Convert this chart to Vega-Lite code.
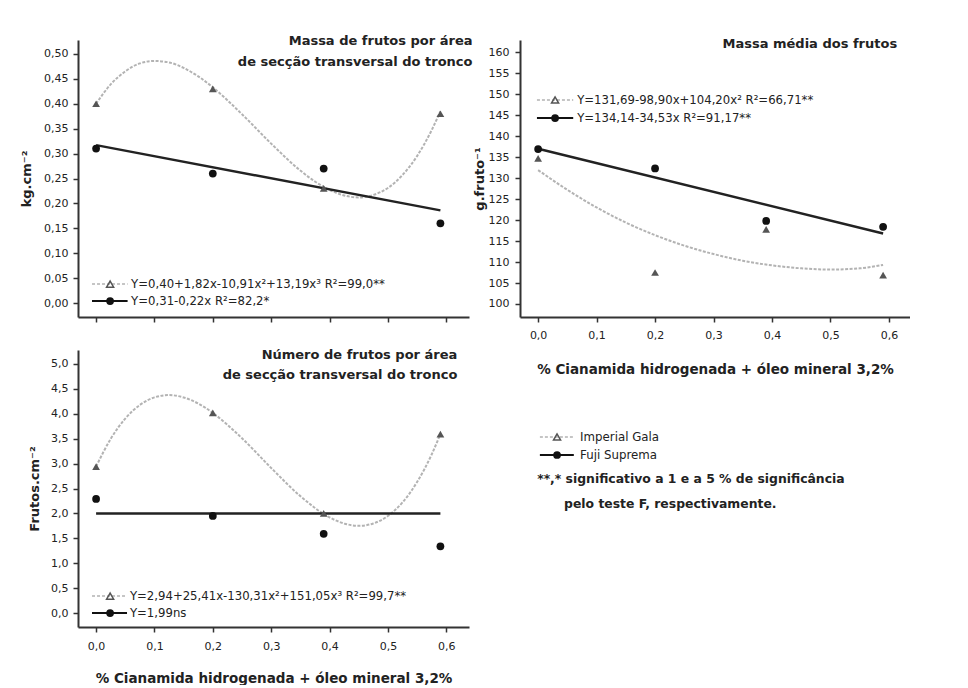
{
  "$schema": "https://vega.github.io/schema/vega-lite/v6.json",
  "background": "white",
  "padding": {"left": 20, "top": 35, "right": 0, "bottom": 0},
  "autosize": {"type": "pad"},
  "config": {
    "view": {"stroke": null},
    "font": "DejaVu Sans",
    "axis": {
      "grid": false,
      "domainColor": "#333",
      "domainWidth": 2,
      "tickColor": "#333",
      "tickWidth": 1.5,
      "tickSize": 5,
      "labelFont": "DejaVu Sans",
      "labelFontSize": 11,
      "labelColor": "#222",
      "labelFlush": false,
      "labelOverlap": false,
      "titleFont": "DejaVu Sans",
      "titleFontSize": 13,
      "titleFontWeight": "bold",
      "titleColor": "#222"
    }
  },
  "datasets": {
    "tl_pts": [
      {"x": 0, "y": 0.40, "cultivar": "Imperial Gala"},
      {"x": 0.2, "y": 0.43, "cultivar": "Imperial Gala"},
      {"x": 0.39, "y": 0.23, "cultivar": "Imperial Gala"},
      {"x": 0.59, "y": 0.38, "cultivar": "Imperial Gala"},
      {"x": 0, "y": 0.31, "cultivar": "Fuji Suprema"},
      {"x": 0.2, "y": 0.26, "cultivar": "Fuji Suprema"},
      {"x": 0.39, "y": 0.27, "cultivar": "Fuji Suprema"},
      {"x": 0.59, "y": 0.16, "cultivar": "Fuji Suprema"}
    ],
    "tl_gala_fit": [
      {"x": 0, "y": 0.400}, {"x": 0.025, "y": 0.439}, {"x": 0.05, "y": 0.465}, {"x": 0.075, "y": 0.481},
      {"x": 0.1, "y": 0.486}, {"x": 0.125, "y": 0.483}, {"x": 0.15, "y": 0.472}, {"x": 0.175, "y": 0.455},
      {"x": 0.2, "y": 0.433}, {"x": 0.25, "y": 0.379}, {"x": 0.3, "y": 0.320}, {"x": 0.35, "y": 0.266},
      {"x": 0.375, "y": 0.244}, {"x": 0.4, "y": 0.227}, {"x": 0.425, "y": 0.216}, {"x": 0.45, "y": 0.212},
      {"x": 0.475, "y": 0.217}, {"x": 0.5, "y": 0.231}, {"x": 0.525, "y": 0.257}, {"x": 0.55, "y": 0.295},
      {"x": 0.575, "y": 0.347}, {"x": 0.59, "y": 0.385}
    ],
    "tl_fuji_fit": [{"x": 0, "y": 0.317}, {"x": 0.59, "y": 0.186}],
    "tr_pts": [
      {"x": 0, "y": 134.7, "cultivar": "Imperial Gala"},
      {"x": 0.2, "y": 107.5, "cultivar": "Imperial Gala"},
      {"x": 0.39, "y": 117.8, "cultivar": "Imperial Gala"},
      {"x": 0.59, "y": 106.9, "cultivar": "Imperial Gala"},
      {"x": 0, "y": 136.9, "cultivar": "Fuji Suprema"},
      {"x": 0.2, "y": 132.3, "cultivar": "Fuji Suprema"},
      {"x": 0.39, "y": 119.8, "cultivar": "Fuji Suprema"},
      {"x": 0.59, "y": 118.4, "cultivar": "Fuji Suprema"}
    ],
    "tr_gala_fit": [
      {"x": 0, "y": 131.9}, {"x": 0.05, "y": 127.2}, {"x": 0.1, "y": 123.0}, {"x": 0.15, "y": 119.4},
      {"x": 0.2, "y": 116.4}, {"x": 0.25, "y": 113.9}, {"x": 0.3, "y": 111.9}, {"x": 0.35, "y": 110.3},
      {"x": 0.4, "y": 109.2}, {"x": 0.45, "y": 108.5}, {"x": 0.5, "y": 108.2}, {"x": 0.55, "y": 108.5},
      {"x": 0.59, "y": 109.3}
    ],
    "tr_fuji_fit": [{"x": 0, "y": 137.0}, {"x": 0.59, "y": 116.8}],
    "bl_pts": [
      {"x": 0, "y": 2.94, "cultivar": "Imperial Gala"},
      {"x": 0.2, "y": 4.02, "cultivar": "Imperial Gala"},
      {"x": 0.39, "y": 2.0, "cultivar": "Imperial Gala"},
      {"x": 0.59, "y": 3.59, "cultivar": "Imperial Gala"},
      {"x": 0, "y": 2.29, "cultivar": "Fuji Suprema"},
      {"x": 0.2, "y": 1.95, "cultivar": "Fuji Suprema"},
      {"x": 0.39, "y": 1.59, "cultivar": "Fuji Suprema"},
      {"x": 0.59, "y": 1.34, "cultivar": "Fuji Suprema"}
    ],
    "bl_gala_fit": [
      {"x": 0, "y": 2.94}, {"x": 0.025, "y": 3.496}, {"x": 0.05, "y": 3.903}, {"x": 0.075, "y": 4.177},
      {"x": 0.1, "y": 4.329}, {"x": 0.125, "y": 4.375}, {"x": 0.15, "y": 4.328}, {"x": 0.175, "y": 4.206},
      {"x": 0.2, "y": 4.018}, {"x": 0.25, "y": 3.509}, {"x": 0.3, "y": 2.913}, {"x": 0.35, "y": 2.347},
      {"x": 0.4, "y": 1.921}, {"x": 0.425, "y": 1.798}, {"x": 0.45, "y": 1.751}, {"x": 0.475, "y": 1.798},
      {"x": 0.5, "y": 1.948}, {"x": 0.525, "y": 2.22}, {"x": 0.55, "y": 2.629}, {"x": 0.575, "y": 3.183},
      {"x": 0.59, "y": 3.594}
    ],
    "bl_fuji_fit": [{"x": 0, "y": 2.0}, {"x": 0.59, "y": 2.0}],
    "one": [{}]
  },
  "spacing": 0,
  "hconcat": [
    {
      "spacing": 26,
      "vconcat": [
        {
          "width": 391,
          "height": 277,
          "layer": [
            {
              "data": {"name": "tl_gala_fit"},
              "mark": {"type": "line", "color": "#b3b3b3", "strokeWidth": 2, "strokeDash": [3, 1.5], "interpolate": "monotone"},
              "encoding": {
                "x": {"field": "x", "type": "quantitative", "scale": {"domain": [-0.031, 0.639], "nice": false, "zero": false},
                  "axis": {"values": [0, 0.1, 0.2, 0.3, 0.4, 0.5, 0.6], "tickCount": 20, "labels": false, "title": null}},
                "y": {"field": "y", "type": "quantitative", "scale": {"domain": [-0.028, 0.528], "nice": false, "zero": false},
                  "axis": {"values": [0, 0.05, 0.1, 0.15, 0.2, 0.25, 0.3, 0.35, 0.4, 0.45, 0.5], "tickCount": 20, "labelOverlap": false,
                    "labelExpr": "replace(format(datum.value, '.2f'), '.', ',')", "title": "kg.cm⁻²", "titlePadding": 10, "labelPadding": 5}}
              }
            },
            {
              "data": {"name": "tl_fuji_fit"},
              "mark": {"type": "line", "color": "#222", "strokeWidth": 2.5},
              "encoding": {"x": {"field": "x", "type": "quantitative"}, "y": {"field": "y", "type": "quantitative"}}
            },
            {
              "data": {"name": "tl_pts"},
              "mark": {"type": "point", "filled": true, "size": 60, "opacity": 1},
              "encoding": {
                "x": {"field": "x", "type": "quantitative"},
                "y": {"field": "y", "type": "quantitative"},
                "shape": {"field": "cultivar", "type": "nominal", "scale": {"domain": ["Imperial Gala", "Fuji Suprema"], "range": ["triangle-up", "circle"]}, "legend": null},
                "color": {"field": "cultivar", "type": "nominal", "scale": {"domain": ["Imperial Gala", "Fuji Suprema"], "range": ["#555555", "#111111"]}, "legend": null}
              }
            },
            {
              "data": {"name": "one"},
              "mark": {"type": "text", "align": "right", "baseline": "top", "fontSize": 13, "fontWeight": "bold", "lineHeight": 21, "color": "#222"},
              "encoding": {"x": {"datum": 0.645, "type": "quantitative"}, "y": {"datum": 0.538, "type": "quantitative"},
                "text": {"value": ["Massa de frutos por área", "de secção transversal do tronco"]}}
            },
            {
              "data": {"name": "one"},
              "mark": {"type": "rule", "color": "#b3b3b3", "strokeWidth": 1.5, "strokeDash": [3, 2]},
              "encoding": {"x": {"datum": -0.007, "type": "quantitative"}, "x2": {"datum": 0.054}, "y": {"datum": 0.038, "type": "quantitative"}}
            },
            {
              "data": {"name": "one"},
              "mark": {"type": "point", "shape": "triangle-up", "filled": false, "color": "#555", "strokeWidth": 1.5, "size": 50, "opacity": 1},
              "encoding": {"x": {"datum": 0.024, "type": "quantitative"}, "y": {"datum": 0.038, "type": "quantitative"}}
            },
            {
              "data": {"name": "one"},
              "mark": {"type": "text", "align": "left", "baseline": "middle", "fontSize": 11.7, "color": "#222"},
              "encoding": {"x": {"datum": 0.06, "type": "quantitative"}, "y": {"datum": 0.038, "type": "quantitative"}, "text": {"value": "Y=0,40+1,82x-10,91x²+13,19x³ R²=99,0**"}}
            },
            {
              "data": {"name": "one"},
              "mark": {"type": "rule", "color": "#111", "strokeWidth": 2},
              "encoding": {"x": {"datum": -0.007, "type": "quantitative"}, "x2": {"datum": 0.054}, "y": {"datum": 0.004, "type": "quantitative"}}
            },
            {
              "data": {"name": "one"},
              "mark": {"type": "point", "shape": "circle", "filled": true, "color": "#111", "size": 60, "opacity": 1},
              "encoding": {"x": {"datum": 0.024, "type": "quantitative"}, "y": {"datum": 0.004, "type": "quantitative"}}
            },
            {
              "data": {"name": "one"},
              "mark": {"type": "text", "align": "left", "baseline": "middle", "fontSize": 11.7, "color": "#222"},
              "encoding": {"x": {"datum": 0.06, "type": "quantitative"}, "y": {"datum": 0.004, "type": "quantitative"}, "text": {"value": "Y=0,31-0,22x R²=82,2*"}}
            }
          ]
        },
        {
          "width": 391,
          "height": 277,
          "layer": [
            {
              "data": {"name": "bl_gala_fit"},
              "mark": {"type": "line", "color": "#b3b3b3", "strokeWidth": 2, "strokeDash": [3, 1.5], "interpolate": "monotone"},
              "encoding": {
                "x": {"field": "x", "type": "quantitative", "scale": {"domain": [-0.031, 0.639], "nice": false, "zero": false},
                  "axis": {"values": [0, 0.1, 0.2, 0.3, 0.4, 0.5, 0.6], "tickCount": 20, "labelOverlap": false, "labelExpr": "replace(format(datum.value, '.1f'), '.', ',')",
                    "labelPadding": 8, "title": "% Cianamida hidrogenada + óleo mineral 3,2%", "titleFontSize": 13.5, "titlePadding": 20}},
                "y": {"field": "y", "type": "quantitative", "scale": {"domain": [-0.28, 5.28], "nice": false, "zero": false},
                  "axis": {"values": [0, 0.5, 1, 1.5, 2, 2.5, 3, 3.5, 4, 4.5, 5], "tickCount": 20, "labelOverlap": false,
                    "labelExpr": "replace(format(datum.value, '.1f'), '.', ',')", "title": "Frutos.cm⁻²", "titlePadding": 9, "labelPadding": 5}}
              }
            },
            {
              "data": {"name": "bl_fuji_fit"},
              "mark": {"type": "line", "color": "#222", "strokeWidth": 2.5},
              "encoding": {"x": {"field": "x", "type": "quantitative"}, "y": {"field": "y", "type": "quantitative"}}
            },
            {
              "data": {"name": "bl_pts"},
              "mark": {"type": "point", "filled": true, "size": 60, "opacity": 1},
              "encoding": {
                "x": {"field": "x", "type": "quantitative"},
                "y": {"field": "y", "type": "quantitative"},
                "shape": {"field": "cultivar", "type": "nominal", "scale": {"domain": ["Imperial Gala", "Fuji Suprema"], "range": ["triangle-up", "circle"]}, "legend": null},
                "color": {"field": "cultivar", "type": "nominal", "scale": {"domain": ["Imperial Gala", "Fuji Suprema"], "range": ["#555555", "#111111"]}, "legend": null}
              }
            },
            {
              "data": {"name": "one"},
              "mark": {"type": "text", "align": "right", "baseline": "top", "fontSize": 13, "fontWeight": "bold", "lineHeight": 20, "color": "#222"},
              "encoding": {"x": {"datum": 0.619, "type": "quantitative"}, "y": {"datum": 5.30, "type": "quantitative"},
                "text": {"value": ["Número de frutos por área", "de secção transversal do tronco"]}}
            },
            {
              "data": {"name": "one"},
              "mark": {"type": "rule", "color": "#b3b3b3", "strokeWidth": 1.5, "strokeDash": [3, 2]},
              "encoding": {"x": {"datum": -0.007, "type": "quantitative"}, "x2": {"datum": 0.053}, "y": {"datum": 0.34, "type": "quantitative"}}
            },
            {
              "data": {"name": "one"},
              "mark": {"type": "point", "shape": "triangle-up", "filled": false, "color": "#555", "strokeWidth": 1.5, "size": 50, "opacity": 1},
              "encoding": {"x": {"datum": 0.024, "type": "quantitative"}, "y": {"datum": 0.34, "type": "quantitative"}}
            },
            {
              "data": {"name": "one"},
              "mark": {"type": "text", "align": "left", "baseline": "middle", "fontSize": 11.7, "color": "#222"},
              "encoding": {"x": {"datum": 0.058, "type": "quantitative"}, "y": {"datum": 0.34, "type": "quantitative"}, "text": {"value": "Y=2,94+25,41x-130,31x²+151,05x³ R²=99,7**"}}
            },
            {
              "data": {"name": "one"},
              "mark": {"type": "rule", "color": "#111", "strokeWidth": 2},
              "encoding": {"x": {"datum": -0.007, "type": "quantitative"}, "x2": {"datum": 0.053}, "y": {"datum": 0.0, "type": "quantitative"}}
            },
            {
              "data": {"name": "one"},
              "mark": {"type": "point", "shape": "circle", "filled": true, "color": "#111", "size": 60, "opacity": 1},
              "encoding": {"x": {"datum": 0.024, "type": "quantitative"}, "y": {"datum": 0.0, "type": "quantitative"}}
            },
            {
              "data": {"name": "one"},
              "mark": {"type": "text", "align": "left", "baseline": "middle", "fontSize": 11.7, "color": "#222"},
              "encoding": {"x": {"datum": 0.058, "type": "quantitative"}, "y": {"datum": 0.0, "type": "quantitative"}, "text": {"value": "Y=1,99ns"}}
            }
          ]
        }
      ]
    },
    {
      "spacing": 46,
      "vconcat": [
        {
          "width": 390,
          "height": 277,
          "layer": [
            {
              "data": {"name": "tr_gala_fit"},
              "mark": {"type": "line", "color": "#b3b3b3", "strokeWidth": 2, "strokeDash": [3, 1.5], "interpolate": "monotone"},
              "encoding": {
                "x": {"field": "x", "type": "quantitative", "scale": {"domain": [-0.031, 0.636], "nice": false, "zero": false},
                  "axis": {"values": [0, 0.1, 0.2, 0.3, 0.4, 0.5, 0.6], "tickCount": 20, "labelOverlap": false, "labelExpr": "replace(format(datum.value, '.1f'), '.', ',')",
                    "labelPadding": 7, "title": "% Cianamida hidrogenada + óleo mineral 3,2%", "titleFontSize": 13.5, "titlePadding": 22}},
                "y": {"field": "y", "type": "quantitative", "scale": {"domain": [96.9, 162.9], "nice": false, "zero": false},
                  "axis": {"values": [100, 105, 110, 115, 120, 125, 130, 135, 140, 145, 150, 155, 160], "tickCount": 20, "labelOverlap": false,
                    "title": "g.fruto⁻¹", "titlePadding": 2, "labelPadding": 6}}
              }
            },
            {
              "data": {"name": "tr_fuji_fit"},
              "mark": {"type": "line", "color": "#222", "strokeWidth": 2.5},
              "encoding": {"x": {"field": "x", "type": "quantitative"}, "y": {"field": "y", "type": "quantitative"}}
            },
            {
              "data": {"name": "tr_pts"},
              "mark": {"type": "point", "filled": true, "size": 60, "opacity": 1},
              "encoding": {
                "x": {"field": "x", "type": "quantitative"},
                "y": {"field": "y", "type": "quantitative"},
                "shape": {"field": "cultivar", "type": "nominal", "scale": {"domain": ["Imperial Gala", "Fuji Suprema"], "range": ["triangle-up", "circle"]}, "legend": null},
                "color": {"field": "cultivar", "type": "nominal", "scale": {"domain": ["Imperial Gala", "Fuji Suprema"], "range": ["#555555", "#111111"]}, "legend": null}
              }
            },
            {
              "data": {"name": "one"},
              "mark": {"type": "text", "align": "right", "baseline": "top", "fontSize": 13, "fontWeight": "bold", "color": "#222"},
              "encoding": {"x": {"datum": 0.614, "type": "quantitative"}, "y": {"datum": 163.3, "type": "quantitative"},
                "text": {"value": "Massa média dos frutos"}}
            },
            {
              "data": {"name": "one"},
              "mark": {"type": "rule", "color": "#b3b3b3", "strokeWidth": 1.5, "strokeDash": [3, 2]},
              "encoding": {"x": {"datum": -0.002, "type": "quantitative"}, "x2": {"datum": 0.06}, "y": {"datum": 148.6, "type": "quantitative"}}
            },
            {
              "data": {"name": "one"},
              "mark": {"type": "point", "shape": "triangle-up", "filled": false, "color": "#555", "strokeWidth": 1.5, "size": 50, "opacity": 1},
              "encoding": {"x": {"datum": 0.029, "type": "quantitative"}, "y": {"datum": 148.6, "type": "quantitative"}}
            },
            {
              "data": {"name": "one"},
              "mark": {"type": "text", "align": "left", "baseline": "middle", "fontSize": 11.7, "color": "#222"},
              "encoding": {"x": {"datum": 0.0667, "type": "quantitative"}, "y": {"datum": 148.6, "type": "quantitative"}, "text": {"value": "Y=131,69-98,90x+104,20x² R²=66,71**"}}
            },
            {
              "data": {"name": "one"},
              "mark": {"type": "rule", "color": "#111", "strokeWidth": 2},
              "encoding": {"x": {"datum": -0.002, "type": "quantitative"}, "x2": {"datum": 0.06}, "y": {"datum": 144.3, "type": "quantitative"}}
            },
            {
              "data": {"name": "one"},
              "mark": {"type": "point", "shape": "circle", "filled": true, "color": "#111", "size": 60, "opacity": 1},
              "encoding": {"x": {"datum": 0.029, "type": "quantitative"}, "y": {"datum": 144.3, "type": "quantitative"}}
            },
            {
              "data": {"name": "one"},
              "mark": {"type": "text", "align": "left", "baseline": "middle", "fontSize": 11.7, "color": "#222"},
              "encoding": {"x": {"datum": 0.0667, "type": "quantitative"}, "y": {"datum": 144.3, "type": "quantitative"}, "text": {"value": "Y=134,14-34,53x R²=91,17**"}}
            }
          ]
        },
        {
          "width": 390,
          "height": 100,
          "data": {"name": "one"},
          "layer": [
            {
              "mark": {"type": "rule", "color": "#b3b3b3", "strokeWidth": 1.5, "strokeDash": [3, 2]},
              "encoding": {
                "x": {"datum": 0.051, "type": "quantitative", "scale": {"domain": [0, 1], "nice": false, "zero": false}, "axis": null},
                "x2": {"datum": 0.138},
                "y": {"datum": 0.85, "type": "quantitative", "scale": {"domain": [0, 1], "nice": false, "zero": false}, "axis": null}
              }
            },
            {
              "mark": {"type": "point", "shape": "triangle-up", "filled": false, "color": "#555", "strokeWidth": 1.5, "size": 50, "opacity": 1},
              "encoding": {"x": {"datum": 0.095, "type": "quantitative"}, "y": {"datum": 0.85, "type": "quantitative"}}
            },
            {
              "mark": {"type": "text", "align": "left", "baseline": "middle", "fontSize": 11.8, "color": "#222"},
              "encoding": {"x": {"datum": 0.154, "type": "quantitative"}, "y": {"datum": 0.85, "type": "quantitative"}, "text": {"value": "Imperial Gala"}}
            },
            {
              "mark": {"type": "rule", "color": "#111", "strokeWidth": 2},
              "encoding": {"x": {"datum": 0.051, "type": "quantitative"}, "x2": {"datum": 0.138}, "y": {"datum": 0.67, "type": "quantitative"}}
            },
            {
              "mark": {"type": "point", "shape": "circle", "filled": true, "color": "#111", "size": 60, "opacity": 1},
              "encoding": {"x": {"datum": 0.095, "type": "quantitative"}, "y": {"datum": 0.67, "type": "quantitative"}}
            },
            {
              "mark": {"type": "text", "align": "left", "baseline": "middle", "fontSize": 11.8, "color": "#222"},
              "encoding": {"x": {"datum": 0.154, "type": "quantitative"}, "y": {"datum": 0.67, "type": "quantitative"}, "text": {"value": "Fuji Suprema"}}
            },
            {
              "mark": {"type": "text", "align": "left", "baseline": "middle", "fontSize": 12.4, "fontWeight": "bold", "color": "#222"},
              "encoding": {"x": {"datum": 0.044, "type": "quantitative"}, "y": {"datum": 0.43, "type": "quantitative"}, "text": {"value": "**,* significativo a 1 e a 5 % de significância"}}
            },
            {
              "mark": {"type": "text", "align": "left", "baseline": "middle", "fontSize": 12.4, "fontWeight": "bold", "color": "#222"},
              "encoding": {"x": {"datum": 0.113, "type": "quantitative"}, "y": {"datum": 0.18, "type": "quantitative"}, "text": {"value": "pelo teste F, respectivamente."}}
            }
          ]
        }
      ]
    }
  ]
}
